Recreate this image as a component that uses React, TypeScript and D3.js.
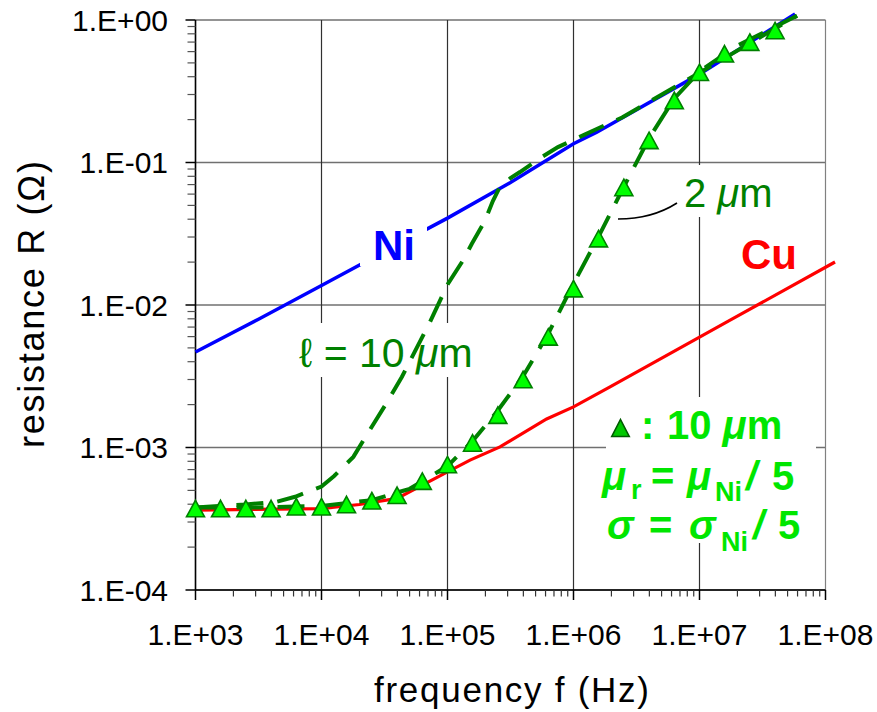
import React from 'react';
import * as d3 from 'd3';

const W = 877;
const H = 712;
const X0 = 195.5, X1 = 825.5, Y0 = 20, Y1 = 590;

// Ni (blue, solid)
const niFreq = [1e3, 3.16e3, 1e4, 3.16e4, 1e5, 3.16e5, 1e6, 1.53e6, 1e7, 5.73e7];
const niR = [4.68e-3, 7.94e-3, 0.0137, 0.0237, 0.0407, 0.0724, 0.1355, 0.1633, 0.417, 1.104];

// Cu (red, solid)
const cuFreq = [1e3, 1e4, 2e4, 3.98e4, 1e5, 1.51e5, 2.61e5, 6.12e5, 1e6, 1.95e6, 1.75e7, 1.19e8];
const cuR = [3.63e-4, 3.73e-4, 3.98e-4, 4.39e-4, 6.75e-4, 8.15e-4, 1.009e-3, 1.585e-3, 1.928e-3, 2.66e-3, 7.83e-3, 0.02004];

// l = 10 um (dark green dashed)
const l10Freq = [1e3, 2.51e3, 4.41e3, 6.17e3, 1e4, 1.26e4, 1.79e4, 2.15e4, 3.39e4, 4.34e4, 7.26e4, 1.01e5, 1.33e5, 1.56e5, 1.99e5, 2.29e5, 2.61e5, 3.16e5, 3.76e5, 5.6e5, 7.53e5, 1.19e6, 1.56e6, 2.43e6, 1e7, 5.94e7];
const l10R = [3.8e-4, 3.98e-4, 4.16e-4, 4.51e-4, 5.32e-4, 6.31e-4, 8.59e-4, 1.122e-3, 2.148e-3, 3.126e-3, 7.6e-3, 0.01413, 0.0206, 0.0269, 0.0393, 0.0537, 0.0676, 0.0776, 0.0857, 0.1091, 0.1282, 0.1549, 0.1734, 0.207, 0.4266, 1.072];

// 2 um (dark green dashed)
const l2Freq = [1e3, 3.16e3, 1e4, 2.51e4, 5.01e4, 1e5, 1.58e5, 2.51e5, 3.98e5, 6.31e5, 1e6, 1.58e6, 2.51e6, 3.98e6, 6.31e6, 1e7, 2e7, 5.94e7];
const l2R = [3.8e-4, 3.8e-4, 3.89e-4, 4.27e-4, 5.13e-4, 7.41e-4, 1.109e-3, 1.82e-3, 3.162e-3, 6.31e-3, 0.01413, 0.0302, 0.0676, 0.1479, 0.2818, 0.4365, 0.661, 1.072];

// triangles: 10 um, mu_r = mu_Ni/5, sigma = sigma_Ni/5
const triFreq = [1e3, 1.58e3, 2.51e3, 3.98e3, 6.31e3, 1e4, 1.58e4, 2.51e4, 3.98e4, 6.31e4, 1e5, 1.58e5, 2.51e5, 3.98e5, 6.31e5, 1e6, 1.58e6, 2.51e6, 3.98e6, 6.31e6, 1e7, 1.58e7, 2.51e7, 3.98e7];
const triR = [3.73e-4, 3.73e-4, 3.73e-4, 3.73e-4, 3.84e-4, 3.84e-4, 3.98e-4, 4.23e-4, 4.62e-4, 5.81e-4, 7.59e-4, 1.076e-3, 1.687e-3, 3.0e-3, 5.97e-3, 0.01303, 0.02924, 0.0668, 0.1429, 0.2723, 0.4295, 0.5794, 0.6998, 0.8433];

const xTicks = [1e3, 1e4, 1e5, 1e6, 1e7, 1e8];
const xTickLabels = ['1.E+03', '1.E+04', '1.E+05', '1.E+06', '1.E+07', '1.E+08'];
const yTicks = [1, 0.1, 0.01, 1e-3, 1e-4];
const yTickLabels = ['1.E+00', '1.E-01', '1.E-02', '1.E-03', '1.E-04'];

const FONT = '"Liberation Sans", Arial, Helvetica, sans-serif';
const DKGREEN = '#008000';
const LGREEN = '#00e600';

export default function App() {
  const x = d3.scaleLog().domain([1e3, 1e8]).range([X0, X1]);
  const y = d3.scaleLog().domain([1e-4, 1]).range([Y1, Y0]);
  const line = d3.line<[number, number]>().x(d => x(d[0])).y(d => y(d[1]));
  const zip = (a: number[], b: number[]) => a.map((v, i) => [v, b[i]] as [number, number]);

  const minors = (decades: number[]) => {
    const out: number[] = [];
    decades.forEach(d => { for (let k = 2; k <= 9; k++) out.push(d * k); });
    return out;
  };
  const xMinor = minors([1e3, 1e4, 1e5, 1e6, 1e7]);
  const yMinor = minors([1e-4, 1e-3, 1e-2, 1e-1]);

  const tri = (cx: number, cy: number, w = 18, h = 16.5) =>
    `M${cx},${cy - h / 2}L${cx + w / 2},${cy + h / 2}L${cx - w / 2},${cy + h / 2}Z`;

  return (
    <div style={{ position: 'absolute', left: 0, top: 0 }}>
      <svg width={W} height={H} style={{ display: 'block', background: '#fff' }} fontFamily={FONT}>
        {/* gridlines */}
        {yTicks.map((t, i) => (
          <line key={'hg' + i} x1={X0} x2={X1} y1={y(t)} y2={y(t)} stroke="#707070" strokeWidth={1.4} />
        ))}
        {xTicks.map((t, i) => (
          <line key={'vg' + i} x1={x(t)} x2={x(t)} y1={Y0} y2={Y1} stroke={i === xTicks.length - 1 ? '#808080' : '#303030'} strokeWidth={1.2} />
        ))}

        {/* white label boxes */}
        <rect x={297} y={323} width={182} height={54} fill="#fff" />
        <rect x={682} y={165} width={98} height={52} fill="#fff" />
        <rect x={606} y={397} width={210} height={146} fill="#fff" />

        {/* axes */}
        <line x1={X0} x2={X0} y1={Y0} y2={Y1} stroke="#000" strokeWidth={1.5} />
        <line x1={X0} x2={X1} y1={Y1} y2={Y1} stroke="#000" strokeWidth={1.5} />
        {yTicks.map((t, i) => (
          <line key={'yt' + i} x1={X0 - 10} x2={X0} y1={y(t)} y2={y(t)} stroke="#000" strokeWidth={1.5} />
        ))}
        {yMinor.map((t, i) => (
          <line key={'ym' + i} x1={X0 - 8} x2={X0} y1={y(t)} y2={y(t)} stroke="#555" strokeWidth={1.2} />
        ))}
        {xTicks.map((t, i) => (
          <line key={'xt' + i} x1={x(t)} x2={x(t)} y1={Y1} y2={Y1 + 10} stroke="#000" strokeWidth={1.5} />
        ))}
        {xMinor.map((t, i) => (
          <line key={'xm' + i} x1={x(t)} x2={x(t)} y1={Y1} y2={Y1 + 6.5} stroke="#333" strokeWidth={1.2} />
        ))}

        {/* tick labels */}
        {yTickLabels.map((s, i) => (
          <text key={'yl' + i} x={168} y={y(yTicks[i])} dy="0.35em" textAnchor="end" fontSize={30} fill="#000">{s}</text>
        ))}
        {xTickLabels.map((s, i) => (
          <text key={'xl' + i} x={x(xTicks[i])} y={645} textAnchor="middle" fontSize={30} fill="#000">{s}</text>
        ))}

        {/* axis titles */}
        <text x={511.5} y={702} textAnchor="middle" fontSize={35} textLength={275} lengthAdjust="spacing" fill="#000">frequency  f (Hz)</text>
        <text transform="translate(44,304.5) rotate(-90)" textAnchor="middle" fontSize={36} textLength={287} lengthAdjust="spacing" fill="#000">resistance  R (Ω)</text>

        {/* data lines */}
        <path d={line(zip(cuFreq, cuR)) || ''} fill="none" stroke="#ff0000" strokeWidth={3.2} />
        <path d={line(zip(niFreq, niR)) || ''} fill="none" stroke="#0000ff" strokeWidth={3.5} />
        <path d={line(zip(l10Freq, l10R)) || ''} fill="none" stroke={DKGREEN} strokeWidth={4} strokeDasharray="27,14" />
        <path d={line(zip(l2Freq, l2R)) || ''} fill="none" stroke={DKGREEN} strokeWidth={4} strokeDasharray="27,14" />
        {triFreq.map((f, i) => (
          <path key={'tr' + i} d={tri(x(f), y(triR[i]))} fill="#00ff00" stroke={DKGREEN} strokeWidth={1.6} strokeLinejoin="miter" />
        ))}

        {/* Ni label with white box */}
        <rect x={360} y={221} width={67} height={45} fill="#fff" />
        <text x={373} y={260} fontSize={42} fontWeight="bold" fill="#0000ff">Ni</text>
        <text x={741} y={269} fontSize={42} fontWeight="bold" fill="#ff0000">Cu</text>

        {/* annotations */}
        <text x={299} y={367} fontSize={41} fill={DKGREEN}>ℓ = 10 <tspan fontStyle="italic">μ</tspan>m</text>
        <text x={684} y={207} fontSize={40} fill={DKGREEN}>2 <tspan fontStyle="italic">μ</tspan>m</text>
        <path d="M618,219 Q652,219 677,203" fill="none" stroke="#000" strokeWidth={1.6} />

        {/* legend block */}
        <path d={tri(620.5, 428, 17.5, 17)} fill="#00c800" stroke="#005a00" strokeWidth={1.6} />
        <g fontWeight="bold" fill={LGREEN}>
          <text x={641} y={439} fontSize={40}>:</text>
          <text x={667} y={439} fontSize={40}>10 <tspan fontStyle="italic">μ</tspan>m</text>

          <text x={602} y={490} fontSize={40} fontStyle="italic">μ</text>
          <text x={631} y={499} fontSize={27}>r</text>
          <text x={651} y={490} fontSize={40}>=</text>
          <text x={687} y={490} fontSize={40} fontStyle="italic">μ</text>
          <text x={715} y={501} fontSize={27}>Ni</text>
          <text x={746} y={490} fontSize={40} fontStyle="italic">/</text>
          <text x={772} y={490} fontSize={40}>5</text>

          <text x={607} y={539} fontSize={40} fontStyle="italic">σ</text>
          <text x={649} y={539} fontSize={40}>=</text>
          <text x={689} y={539} fontSize={40} fontStyle="italic">σ</text>
          <text x={721} y={551} fontSize={27}>Ni</text>
          <text x={753} y={539} fontSize={40} fontStyle="italic">/</text>
          <text x={778} y={539} fontSize={40}>5</text>
        </g>
      </svg>
    </div>
  );
}
